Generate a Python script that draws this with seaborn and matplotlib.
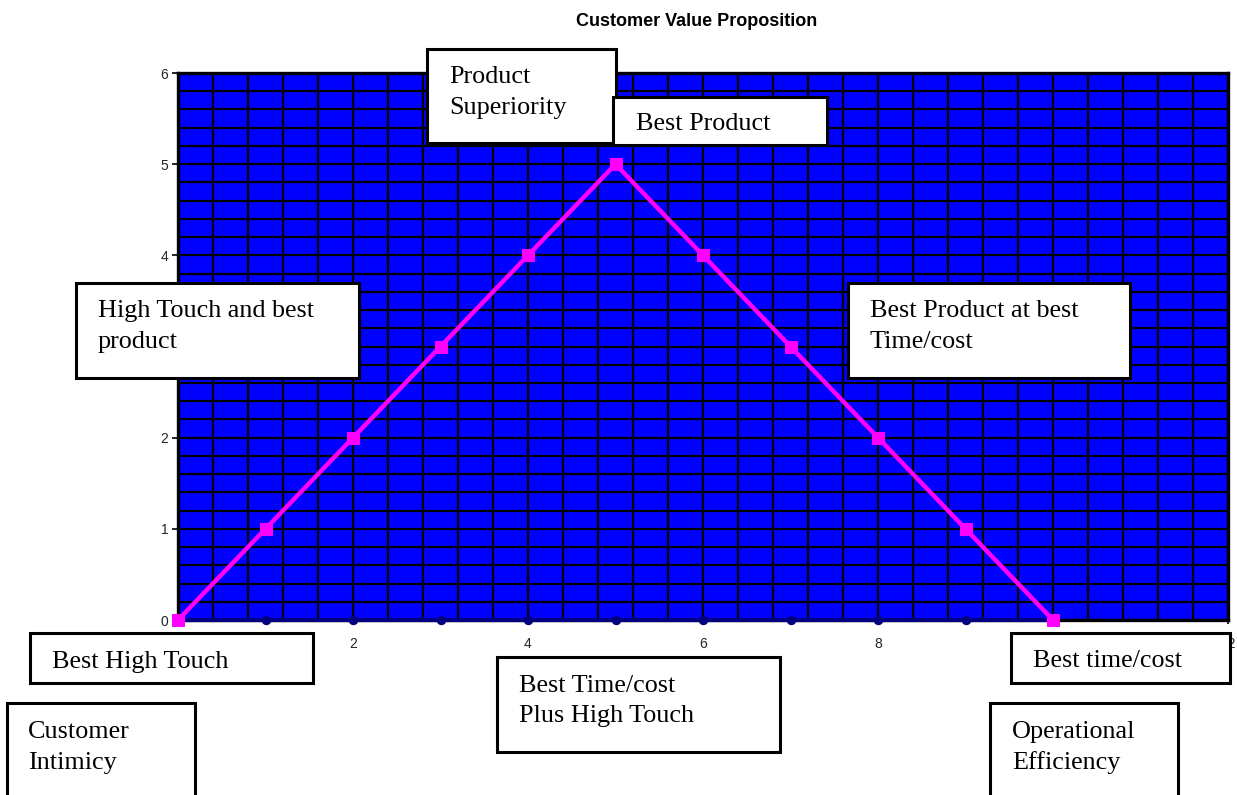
import numpy as np
import pandas as pd
import matplotlib
matplotlib.use("Agg")
import matplotlib.pyplot as plt
from matplotlib.ticker import MultipleLocator
from matplotlib.patches import Rectangle
import seaborn as sns

# ---- data ----
x_values = [0, 1, 2, 3, 4, 5, 6, 7, 8, 9, 10]
value_series = [0, 1, 2, 3, 4, 5, 4, 3, 2, 1, 0]
base_series = [0, 0, 0, 0, 0, 0, 0, 0, 0, 0, 0]
title_text = "Customer Value Proposition"
x_ticks = [0, 2, 4, 6, 8, 10, 12]
y_ticks = [0, 1, 2, 3, 4, 5, 6]

# text boxes: (x0, y0, x1, y1) in pixels (top-left origin), text x, baselines, lines
boxes = [
    ((427, 49, 616, 143), 449, [83, 114], ["Product", "Superiority"]),
    ((613, 97, 827, 145), 636, [130], ["Best Product"]),
    ((76, 283, 359, 378), 98, [317, 348], ["High Touch and best", "product"]),
    ((848, 283, 1130, 378), 870, [317, 348], ["Best Product at best", "Time/cost"]),
    ((30, 633, 313, 683), 52, [668], ["Best High Touch"]),
    ((497, 657, 780, 752), 519, [692, 722], ["Best Time/cost", "Plus High Touch"]),
    ((7, 703, 195, 805), 28, [738, 769], ["Customer", "Intimicy"]),
    ((1011, 633, 1230, 683), 1033, [667], ["Best time/cost"]),
    ((990, 703, 1178, 805), 1012, [738, 769], ["Operational", "Efficiency"]),
]

W, H = 1237, 795
DPI = 100
sns.set_style("white")
plt.rcParams["font.family"] = ["Liberation Sans", "DejaVu Sans"]

fig = plt.figure(figsize=(W / DPI, H / DPI), dpi=DPI)
fig.patch.set_facecolor("white")
ax = fig.add_axes([178 / W, 1 - 620 / H, (1228 - 178) / W, (620 - 73) / H])
ax.set_facecolor("#0000FF")

df = pd.DataFrame({"x": x_values, "value": value_series, "base": base_series})

sns.lineplot(data=df, x="x", y="base", ax=ax, color="#000080", linewidth=3.0,
             marker="o", markersize=6, markeredgecolor="#000080",
             clip_on=False, zorder=4)
sns.lineplot(data=df, x="x", y="value", ax=ax, color="#FF00FF", linewidth=3.2,
             marker="s", markersize=8, markeredgecolor="#FF00FF",
             clip_on=False, zorder=5)

ax.set_xlim(0, 12)
ax.set_ylim(0, 6)
ax.set_xticks(x_ticks)
ax.set_yticks(y_ticks)
ax.set_xticklabels([str(v) for v in x_ticks])
ax.set_yticklabels([str(v) for v in y_ticks])
ax.xaxis.set_minor_locator(MultipleLocator(0.4))
ax.yaxis.set_minor_locator(MultipleLocator(0.2))
ax.grid(True, which="both", color="black", linewidth=1.6)
ax.set_axisbelow(True)
ax.set_xlabel("")
ax.set_ylabel("")
ax.tick_params(axis="both", which="minor", length=0)
ax.tick_params(axis="y", which="major", direction="out", length=4, width=1.2,
               color="black", labelsize=10, pad=3, left=True)
ax.tick_params(axis="x", which="major", direction="out", length=3, width=1.2,
               color="black", labelsize=10, pad=9, bottom=True)
for side, sp in ax.spines.items():
    sp.set_color("black")
    sp.set_linewidth(2.4)
    sp.set_visible(True)

fig.text(697 / W, 1 - 26 / H, title_text, ha="center", va="baseline",
         fontsize=13, fontweight="bold", color="black")

for (x0, y0, x1, y1), tx, baselines, lines in boxes:
    shadow = Rectangle((x0 / W + 2 / W, 1 - y1 / H - 2 / H), (x1 - x0) / W, (y1 - y0) / H,
                       transform=fig.transFigure, facecolor="black", edgecolor="black",
                       linewidth=0, zorder=20)
    rect = Rectangle((x0 / W, 1 - y1 / H), (x1 - x0) / W, (y1 - y0) / H,
                     transform=fig.transFigure, facecolor="white", edgecolor="black",
                     linewidth=2.2, zorder=21)
    fig.add_artist(shadow)
    fig.add_artist(rect)
    for b, line in zip(baselines, lines):
        fig.text(tx / W, 1 - b / H, line, ha="left", va="baseline",
                 fontsize=18.8, family=["Liberation Serif", "DejaVu Serif"],
                 color="black", zorder=22)

fig.savefig("out.png", dpi=DPI, facecolor="white")
